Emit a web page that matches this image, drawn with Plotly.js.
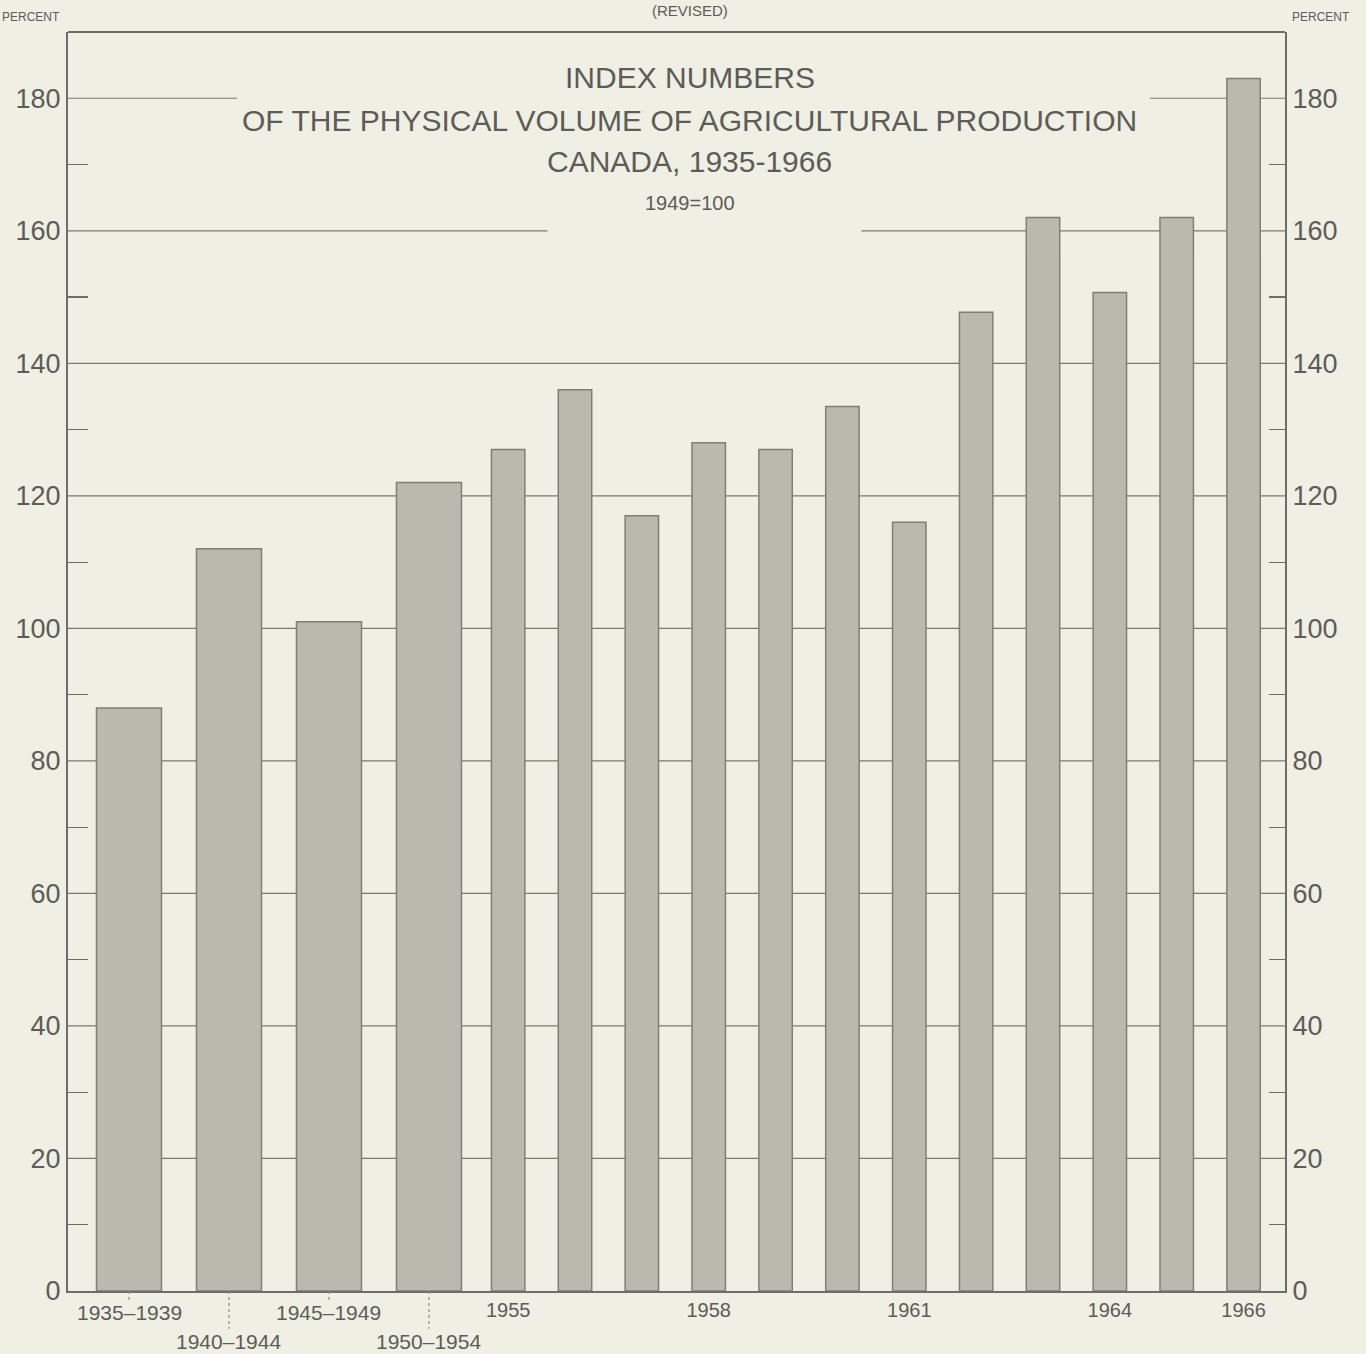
<!DOCTYPE html>
<html>
<head>
<meta charset="utf-8">
<script src="https://cdn.plot.ly/plotly-3.0.1.min.js"></script>
<style>
html,body{margin:0;padding:0;background:#f0efe3;}
#chart{width:1366px;height:1354px;}
</style>
</head>
<body>
<div id="chart"></div>
<script>
// ---- data ----
const periodLabels = ['1935–1939', '1940–1944', '1945–1949', '1950–1954'];
const periodValues = [88, 112, 101, 122];
const yearLabels = ['1955','1956','1957','1958','1959','1960','1961','1962','1963','1964','1965','1966'];
const yearValues = [127, 136, 117, 128, 127, 133.5, 116, 147.7, 162, 150.7, 162, 183];
const yearTickLabels = ['1955', '1958', '1961', '1964', '1966'];
const yTickValues = [0, 20, 40, 60, 80, 100, 120, 140, 160, 180];
const titleLines = ['INDEX NUMBERS', 'OF THE PHYSICAL VOLUME OF AGRICULTURAL PRODUCTION', 'CANADA, 1935-1966'];
const baseNote = '1949=100';
const unitLabel = 'PERCENT';
const revisedLabel = '(REVISED)';

// ---- style ----
const BG = '#f0efe3';
const INK = '#5c5c58';
const FRAME = '#6e6e68';
const GRID = '#7a7a72';
const BAR = '#b9b9ae';
const BAR_EDGE = '#7f7f77';
const FONT = 'Liberation Sans, Arial, sans-serif';
const NARROW = 'Liberation Sans Narrow, Liberation Sans, Arial, sans-serif';

const traces = [
  {
    type: 'bar', x: periodLabels, y: periodValues, xaxis: 'x', yaxis: 'y',
    width: 0.65,
    marker: {color: BAR, line: {color: BAR_EDGE, width: 1.5}},
    hoverinfo: 'x+y', showlegend: false
  },
  {
    type: 'bar', x: yearLabels, y: yearValues, xaxis: 'x2', yaxis: 'y',
    width: 0.5,
    marker: {color: BAR, line: {color: BAR_EDGE, width: 1.5}},
    hoverinfo: 'x+y', showlegend: false
  },
  {
    type: 'scatter', x: [yearLabels[0]], y: [0], xaxis: 'x2', yaxis: 'y3',
    mode: 'markers', marker: {opacity: 0}, hoverinfo: 'skip', showlegend: false
  }
];

const split = 0.3342;

const annotations = [];
const titleY = [0.9635, 0.9301, 0.8975];
titleLines.forEach((t, i) => {
  annotations.push({
    text: t, xref: 'paper', x: 0.511, yref: 'paper', y: titleY[i],
    yanchor: 'middle', showarrow: false,
    font: {family: FONT, size: 30, color: INK}
  });
});
periodLabels.forEach((lab, i) => {
  const lower = i % 2 === 1;
  annotations.push({
    text: lab, xref: 'x', x: lab, yref: 'paper', y: 0,
    yanchor: 'top', yshift: lower ? -37 : -8, showarrow: false,
    font: {family: FONT, size: 21, color: INK}
  });
});
annotations.push({
  text: baseNote, xref: 'paper', x: 0.511, yref: 'paper', y: 0.8642,
  yanchor: 'middle', showarrow: false, font: {family: FONT, size: 20, color: INK}
});
annotations.push({
  text: unitLabel, xref: 'paper', x: 0, xshift: -68, xanchor: 'left',
  yref: 'paper', y: 1, yshift: 15, yanchor: 'middle', showarrow: false,
  font: {family: FONT, size: 12, color: INK}
});
annotations.push({
  text: unitLabel, xref: 'paper', x: 1, xshift: 5, xanchor: 'left',
  yref: 'paper', y: 1, yshift: 15, yanchor: 'middle', showarrow: false,
  font: {family: FONT, size: 12, color: INK}
});
annotations.push({
  text: revisedLabel, xref: 'paper', x: 0.511, yref: 'paper', y: 1, yshift: 22,
  yanchor: 'middle', showarrow: false, font: {family: FONT, size: 15, color: INK}
});

const shapes = [
  // top frame
  {type: 'line', xref: 'paper', yref: 'paper', x0: 0, x1: 1, y0: 1, y1: 1,
   line: {color: FRAME, width: 2}}
];
// horizontal grid lines behind the bars, interrupted where the title text sits
const gridBreaks = {180: [0.139, 0.889], 160: [0.394, 0.652]};
yTickValues.forEach(v => {
  if (v === 0) return;
  const segs = gridBreaks[v] ? [[0, gridBreaks[v][0]], [gridBreaks[v][1], 1]] : [[0, 1]];
  segs.forEach(s => shapes.push({
    type: 'line', layer: 'below', xref: 'paper', yref: 'y',
    x0: s[0], x1: s[1], y0: v, y1: v, line: {color: GRID, width: 1.2}
  }));
});
periodLabels.forEach((lab, i) => {
  const lower = i % 2 === 1;
  shapes.push({
    type: 'line', xref: 'x', yref: 'paper', x0: i, x1: i,
    y0: 0, y1: lower ? -0.03 : -0.007,
    line: {color: '#8a8a84', width: 1.2, dash: 'dot'}
  });
});

const yBase = {
  range: [0, 190], tickvals: yTickValues, ticks: '',
  showgrid: false, zeroline: false, showline: true, linecolor: FRAME, linewidth: 2,
  tickfont: {family: FONT, size: 27, color: INK},
  minor: {tickvals: [10, 30, 50, 70, 90, 110, 130, 150, 170], ticks: 'inside', ticklen: 20,
          tickcolor: FRAME, tickwidth: 1.2, showgrid: false},
  fixedrange: true
};

const layout = {
  width: 1366, height: 1354,
  paper_bgcolor: BG, plot_bgcolor: BG,
  margin: {l: 68, r: 81, t: 32, b: 63},
  bargap: 0,
  xaxis: {
    domain: [0, split], range: [-0.61, 3.4575], type: 'category',
    showticklabels: false, ticks: '', showgrid: false, zeroline: false,
    showline: true, linecolor: FRAME, linewidth: 2, anchor: 'y', fixedrange: true
  },
  xaxis2: {
    domain: [split, 1], range: [-0.5, 11.62], type: 'category',
    tickvals: yearTickLabels, ticktext: yearTickLabels, ticks: '',
    tickfont: {family: NARROW, size: 20, color: INK},
    showgrid: false, zeroline: false,
    showline: true, linecolor: FRAME, linewidth: 2, anchor: 'y', fixedrange: true
  },
  yaxis: Object.assign({}, yBase, {side: 'left', anchor: 'x'}),
  yaxis3: Object.assign({}, yBase, {
    side: 'right', overlaying: 'y', anchor: 'x2',
    minor: {tickvals: [10, 30, 50, 70, 90, 110, 130, 150, 170], ticks: 'inside', ticklen: 16,
            tickcolor: FRAME, tickwidth: 1.2, showgrid: false}
  }),
  annotations: annotations,
  shapes: shapes,
  showlegend: false
};

Plotly.newPlot('chart', traces, layout, {displayModeBar: false, staticPlot: true});
</script>
</body>
</html>
